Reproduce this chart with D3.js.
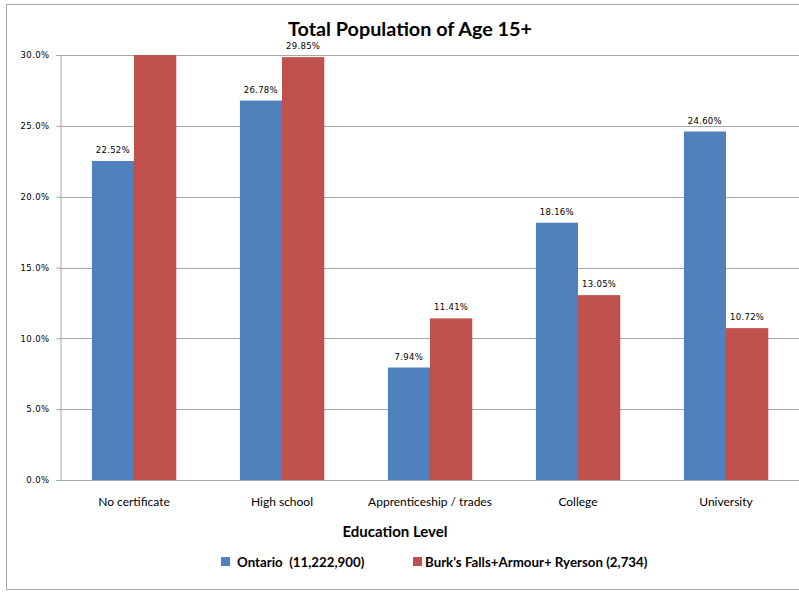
<!DOCTYPE html>
<html>
<head>
<meta charset="utf-8">
<script src="https://cdn.jsdelivr.net/npm/d3@7"></script>
<style>
  body { margin: 0; background: #fff; }
  text { font-family: Lato, "Open Sans", sans-serif; }
</style>
</head>
<body>
<div id="chart"></div>
<script>
// Data
const categories = ["No certificate", "High school", "Apprenticeship / trades", "College", "University"];
const seriesNames = ["Ontario  (11,222,900)", "Burk's Falls+Armour+ Ryerson (2,734)"];
const ontario = [22.52, 26.78, 7.94, 18.16, 24.60];
const burks = [31.0, 29.85, 11.41, 13.05, 10.72];
const yTicks = [0, 5, 10, 15, 20, 25, 30];
const colors = ["#4f81bd", "#c0504d"];

const W = 799, H = 592;
const margin = { top: 55, left: 60 };
const plotW = 740, plotH = 425;

const svg = d3.select("#chart").append("svg")
  .attr("width", W)
  .attr("height", H);

// outer frame (right edge falls outside the picture)
svg.append("rect")
  .attr("x", 6.5).attr("y", 4.5)
  .attr("width", 820).attr("height", 585)
  .attr("fill", "#fff")
  .attr("stroke", "#a6a6a6");

const g = svg.append("g")
  .attr("transform", `translate(${margin.left},${margin.top})`);

const x = d3.scaleBand().domain(categories).range([0, plotW]).paddingInner(0.4286).paddingOuter(0.2143);
const x1 = d3.scaleBand().domain([0, 1]).range([0, x.bandwidth()]);
const y = d3.scaleLinear().domain([0, 30]).range([plotH, 0]);

// gridlines
g.selectAll(".grid")
  .data(yTicks)
  .enter().append("line")
  .attr("x1", 0).attr("x2", plotW)
  .attr("y1", d => Math.round(y(d)) + 0.5)
  .attr("y2", d => Math.round(y(d)) + 0.5)
  .attr("stroke", "#a6a6a6");

// y axis
const yAxis = g.append("g")
  .attr("transform", "translate(0.5,0)")
  .call(d3.axisLeft(y).tickValues(yTicks).tickSize(4).tickFormat(d => d.toFixed(1) + "%"));
yAxis.select(".domain").attr("stroke", "#a6a6a6");
yAxis.selectAll(".tick line").attr("stroke", "#a6a6a6");
yAxis.selectAll(".tick text")
  .attr("x", -11)
  .style("font-family", "DejaVu Sans")
  .style("font-size", "8.5px")
  .style("letter-spacing", "0.4px")
  .attr("fill", "#000");

// clip bars to plot
svg.append("clipPath").attr("id", "plotClip")
  .append("rect").attr("x", 0).attr("y", 0).attr("width", plotW).attr("height", plotH);

const rows = categories.map((c, i) => ({ cat: c, vals: [ontario[i], burks[i]] }));

const groups = g.selectAll(".grp")
  .data(rows)
  .enter().append("g")
  .attr("class", "grp")
  .attr("transform", d => `translate(${x(d.cat)},0)`);

groups.selectAll("rect")
  .data(d => d.vals.map((v, s) => ({ v, s })))
  .enter().append("rect")
  .attr("clip-path", "url(#plotClip)")
  .attr("x", d => x1(d.s))
  .attr("width", x1.bandwidth())
  .attr("y", d => y(Math.min(d.v, 30)))
  .attr("height", d => plotH - y(Math.min(d.v, 30)))
  .attr("fill", d => colors[d.s]);

// data labels (hidden when value is off the scale)
groups.selectAll(".lbl")
  .data(d => d.vals.map((v, s) => ({ v, s })).filter(d => d.v <= 30))
  .enter().append("text")
  .attr("class", "lbl")
  .attr("x", d => x1(d.s) + x1.bandwidth() / 2)
  .attr("y", d => y(d.v) - 8)
  .attr("text-anchor", "middle")
  .style("font-family", "DejaVu Sans")
  .style("font-size", "8.5px")
  .style("letter-spacing", "0.3px")
  .text(d => d.v.toFixed(2) + "%");

// category labels
g.selectAll(".cat")
  .data(categories)
  .enter().append("text")
  .attr("x", d => x(d) + x.bandwidth() / 2)
  .attr("y", plotH + 26)
  .attr("text-anchor", "middle")
  .style("font-size", "12px")
  .text(d => d);

// title
svg.append("text")
  .attr("x", 410).attr("y", 36)
  .attr("text-anchor", "middle")
  .style("font-size", "19.8px")
  .style("font-weight", "bold")
  .text("Total Population of Age 15+");

// x axis caption
svg.append("text")
  .attr("x", 395).attr("y", 537)
  .attr("text-anchor", "middle")
  .style("font-size", "15px")
  .style("font-weight", "bold")
  .text("Education Level");

// legend
const legendX = [221, 413];
const legend = svg.selectAll(".leg")
  .data(seriesNames)
  .enter().append("g")
  .attr("transform", (d, i) => `translate(${legendX[i]},557)`);
legend.append("rect")
  .attr("width", 9).attr("height", 9)
  .attr("fill", (d, i) => colors[i]);
legend.append("text")
  .attr("x", (d, i) => i === 0 ? 16 : 12)
  .attr("y", 9.5)
  .style("font-size", "13.3px")
  .style("font-weight", "bold")
  .style("white-space", "pre")
  .text(d => d);
</script>
</body>
</html>
